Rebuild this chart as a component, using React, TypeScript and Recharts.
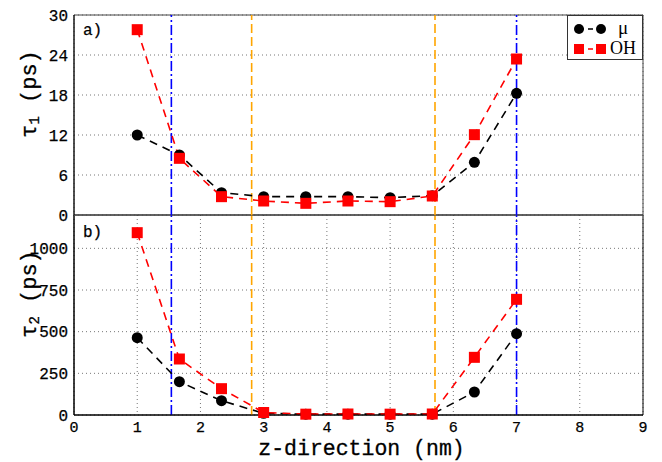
import React from 'react';
import {
  LineChart, Line, XAxis, YAxis, CartesianGrid, ReferenceLine, ReferenceArea, Legend,
} from 'recharts';

const zPositions = [1, 1.667, 2.333, 3, 3.667, 4.333, 5, 5.667, 6.333, 7];
const tau1Mu = [12.0, 9.0, 3.35, 2.75, 2.75, 2.75, 2.6, 2.9, 7.9, 18.25];
const tau1OH = [27.8, 8.5, 2.75, 2.1, 1.75, 2.1, 2.0, 2.85, 12.05, 23.4];
const tau2Mu = [464, 200, 86, 10, 5, 5, 5, 5, 138, 488];
const tau2OH = [1094, 336, 158, 15, 5, 6, 5, 6, 346, 694];

const xTicks = [0, 1, 2, 3, 4, 5, 6, 7, 8, 9];
const tau1Ticks = [0, 6, 12, 18, 24, 30];
const tau2Ticks = [0, 250, 500, 750, 1000];
const blueLines = [1.54, 7.0];
const orangeLines = [2.81, 5.71];
const seriesNames = ['μ', 'OH'];

const topData = zPositions.map((z, i) => ({ z, mu: tau1Mu[i], oh: tau1OH[i] }));
const bottomData = zPositions.map((z, i) => ({ z, mu: tau2Mu[i], oh: tau2OH[i] }));

const MONO = '"Liberation Mono", "DejaVu Sans Mono", monospace';
const SERIF = '"Liberation Serif", "DejaVu Serif", serif';
const tickStyle = { fontFamily: MONO, fontSize: 16, fill: '#000', stroke: '#000', strokeWidth: 0.25 };
const xTickStyle = { fontFamily: MONO, fontSize: 15, fill: '#000', stroke: '#000', strokeWidth: 0.25 };

const SquareDot = (props: any) => {
  const { cx, cy, index } = props;
  if (cx == null || cy == null) return <g key={`s-${index}`} />;
  return <rect key={`s-${index}`} x={cx - 5.5} y={cy - 5.5} width={11} height={11} fill="#ff0000" />;
};

const CircleDot = (props: any) => {
  const { cx, cy, index } = props;
  if (cx == null || cy == null) return <g key={`c-${index}`} />;
  return <circle key={`c-${index}`} cx={cx} cy={cy} r={5.5} fill="#000" />;
};

const YLabel = (sub: string) => (props: any) => {
  const vb = props.viewBox || { x: 24, y: 15, width: 50, height: 200 };
  const cx = vb.x + 6;
  const cy = vb.y + 79;
  return (
    <text
      x={cx}
      y={cy}
      transform={`rotate(-90, ${cx}, ${cy})`}
      textAnchor="middle"
      dominantBaseline="central"
      style={{ fontFamily: MONO, fontSize: 22, fill: '#000', stroke: '#000', strokeWidth: 0.3 }}
    >
      τ<tspan fontSize={14} dy={5}>{sub}</tspan>
      <tspan dy={-5}> (ps)</tspan>
    </text>
  );
};

const XLabel = (props: any) => {
  const vb = props.viewBox || { x: 74, y: 215, width: 569, height: 30 };
  return (
    <text
      x={vb.x + vb.width / 2 + 3}
      y={vb.y + 40}
      textAnchor="middle"
      style={{ fontFamily: MONO, fontSize: 21.5, fill: '#000', stroke: '#000', strokeWidth: 0.3 }}
    >
      z-direction (nm)
    </text>
  );
};

const LegendBox = () => (
  <div
    style={{
      width: 76,
      height: 45,
      border: '1px solid #333',
      background: '#fff',
      boxSizing: 'border-box',
      position: 'relative',
    }}
  >
    <svg width={74} height={43} style={{ position: 'absolute', left: 0, top: 0 }}>
      <line x1={11} y1={13} x2={33} y2={13} stroke="#000" strokeWidth={1.5} strokeDasharray="5 4" />
      <circle cx={11} cy={13} r={5} fill="#000" />
      <circle cx={33} cy={13} r={5} fill="#000" />
      <line x1={11} y1={33} x2={33} y2={33} stroke="#ff0000" strokeWidth={1.5} strokeDasharray="5 4" />
      <rect x={6} y={28} width={10} height={10} fill="#ff0000" />
      <rect x={28} y={28} width={10} height={10} fill="#ff0000" />
      <text x={50} y={18} style={{ fontFamily: SERIF, fontSize: 19, fill: '#000' }}>
        {seriesNames[0]}
      </text>
      <text x={42} y={38} style={{ fontFamily: SERIF, fontSize: 18, fill: '#000' }}>
        {seriesNames[1]}
      </text>
    </svg>
  </div>
);

const refLines = (key: string) => [
  ...blueLines.map((x) => (
    <ReferenceLine
      key={`${key}-b-${x}`}
      x={x}
      stroke="#0000ff"
      strokeWidth={1.6}
      strokeDasharray="10 3 2 3"
    />
  )),
  ...orangeLines.map((x) => (
    <ReferenceLine
      key={`${key}-o-${x}`}
      x={x}
      stroke="#ffa500"
      strokeWidth={1.6}
      strokeDasharray="9 4"
    />
  )),
];

export default function App() {
  return (
    <div style={{ position: 'absolute', left: 0, top: 0, width: 662, height: 462, background: '#fff' }}>
      <div style={{ position: 'absolute', left: 0, top: 200 }}>
        <LineChart
          width={662}
          height={262}
          data={bottomData}
          margin={{ top: 15, right: 19, bottom: 17, left: 24 }}
        >
          <CartesianGrid stroke="#777" strokeDasharray="1 3" />
          <XAxis
            dataKey="z"
            type="number"
            domain={[0, 9]}
            ticks={xTicks}
            height={30}
            tickLine={false}
            tickSize={6}
            tickMargin={0}
            axisLine={{ stroke: '#000' }}
            tick={xTickStyle}
            label={<XLabel />}
          />
          <YAxis
            type="number"
            domain={[0, 1200]}
            ticks={tau2Ticks}
            width={50}
            tickLine={false}
            tickSize={6}
            tickMargin={0}
            axisLine={{ stroke: '#000' }}
            tick={tickStyle}
            label={React.createElement(YLabel('2'))}
          />
          <ReferenceArea x1={0} x2={9} y1={0} y2={1200} fill="none" fillOpacity={0} stroke="#000" strokeWidth={1} />
          {refLines('bot')}
          <Line
            dataKey="mu"
            name={seriesNames[0]}
            stroke="#000"
            strokeWidth={1.6}
            strokeDasharray="8 6"
            dot={CircleDot}
            isAnimationActive={false}
          />
          <Line
            dataKey="oh"
            name={seriesNames[1]}
            stroke="#ff0000"
            strokeWidth={1.6}
            strokeDasharray="8 6"
            dot={SquareDot}
            isAnimationActive={false}
          />
        </LineChart>
      </div>
      <div style={{ position: 'absolute', left: 0, top: 0 }}>
        <LineChart
          width={662}
          height={240}
          data={topData}
          margin={{ top: 15, right: 19, bottom: 25, left: 24 }}
        >
          <CartesianGrid stroke="#777" strokeDasharray="1 3" />
          <XAxis
            dataKey="z"
            type="number"
            domain={[0, 9]}
            ticks={xTicks}
            height={0}
            tick={false}
            tickLine={false}
            axisLine={{ stroke: '#000' }}
          />
          <YAxis
            type="number"
            domain={[0, 30]}
            ticks={tau1Ticks}
            width={50}
            tickLine={false}
            tickSize={6}
            tickMargin={0}
            axisLine={{ stroke: '#000' }}
            tick={tickStyle}
            label={React.createElement(YLabel('1'))}
          />
          <ReferenceArea x1={0} x2={9} y1={0} y2={30} fill="none" fillOpacity={0} stroke="#444" strokeWidth={1} />
          {refLines('top')}
          <Line
            dataKey="mu"
            name={seriesNames[0]}
            stroke="#000"
            strokeWidth={1.6}
            strokeDasharray="8 6"
            dot={CircleDot}
            isAnimationActive={false}
          />
          <Line
            dataKey="oh"
            name={seriesNames[1]}
            stroke="#ff0000"
            strokeWidth={1.6}
            strokeDasharray="8 6"
            dot={SquareDot}
            isAnimationActive={false}
          />
          <Legend
            layout="horizontal"
            verticalAlign="middle"
            align="center"
            content={<LegendBox />}
            wrapperStyle={{ position: 'absolute', top: 15, left: 567, width: 76, height: 45 }}
          />
        </LineChart>
      </div>
      <svg
        width={662}
        height={462}
        style={{ position: 'absolute', left: 0, top: 0, pointerEvents: 'none' }}
      >
        <text x={83} y={35} style={{ fontFamily: MONO, fontSize: 16, fill: '#000', stroke: '#000', strokeWidth: 0.25 }}>a)</text>
        <text x={83} y={237} style={{ fontFamily: MONO, fontSize: 16, fill: '#000', stroke: '#000', strokeWidth: 0.25 }}>b)</text>
      </svg>
    </div>
  );
}
